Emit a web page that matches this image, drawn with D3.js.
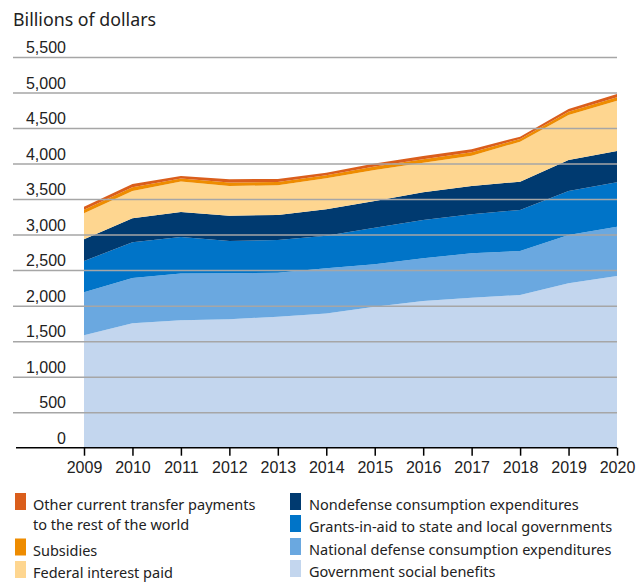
<!DOCTYPE html>
<html>
<head>
<meta charset="utf-8">
<script src="https://cdn.jsdelivr.net/npm/d3@7"></script>
<style>
  body { margin: 0; background: #fff; }
  svg { font-family: "Noto Sans", sans-serif; }
  .grid line { stroke: #a6a6a6; stroke-width: 1.5; }
  .grid .domain { display: none; }
  .y-labels .domain, .y-labels line { display: none; }
  .x-axis .domain { display: none; }
  .x-axis line { stroke: #000; stroke-width: 1.5; }
</style>
</head>
<body>
<div id="chart"></div>
<script>
let years = [2009, 2010, 2011, 2012, 2013, 2014, 2015, 2016, 2017, 2018, 2019, 2020];

let socialBenefits = [1584, 1751, 1795, 1808, 1844, 1888, 1985, 2065, 2110, 2150, 2314, 2417];
let defense = [605, 638, 657, 647, 620, 638, 597, 601, 627, 619, 681, 694];
let grants = [439, 503, 514, 455, 460, 459, 514, 540, 549, 578, 619, 625];
let nondefense = [306, 338, 352, 356, 352, 371, 377, 390, 398, 398, 436, 441];
let interest = [366, 384, 430, 418, 418, 437, 437, 416, 427, 563, 634, 708];
let subsidies = [50, 52, 42, 50, 48, 42, 48, 50, 48, 38, 44, 50];
let otherTransfers = [43, 46, 35, 45, 41, 37, 43, 45, 42, 32, 40, 45];

let yTicks = [0, 500, 1000, 1500, 2000, 2500, 3000, 3500, 4000, 4500, 5000, 5500];

let seriesKeys = ["social", "defense", "grants", "nondefense", "interest", "subsidies", "other"];
let seriesColors = {
  social: "#c3d6ee",
  defense: "#6aa8e0",
  grants: "#0074c8",
  nondefense: "#003a70",
  interest: "#fed690",
  subsidies: "#ee8c00",
  other: "#da5e1c",
};

let legendLeft = [
  { key: "other", lines: ["Other current transfer payments", "to the rest of the world"] },
  { key: "subsidies", lines: ["Subsidies"] },
  { key: "interest", lines: ["Federal interest paid"] },
];
let legendRight = [
  { key: "nondefense", lines: ["Nondefense consumption expenditures"] },
  { key: "grants", lines: ["Grants-in-aid to state and local governments"] },
  { key: "defense", lines: ["National defense consumption expenditures"] },
  { key: "social", lines: ["Government social benefits"] },
];

let data = years.map((yr, i) => ({
  year: yr,
  social: socialBenefits[i],
  defense: defense[i],
  grants: grants[i],
  nondefense: nondefense[i],
  interest: interest[i],
  subsidies: subsidies[i],
  other: otherTransfers[i],
}));

let width = 644,
  height = 582;

let plot = { left: 84, right: 617, top: 57, bottom: 447.7 };

let svg = d3
  .select("#chart")
  .append("svg")
  .attr("width", width)
  .attr("height", height);

let xScale = d3.scaleLinear().domain([2009, 2020]).range([plot.left, plot.right]);
let yScale = d3.scaleLinear().domain([0, 5500]).range([plot.bottom, plot.top]);

let stacked = d3.stack().keys(seriesKeys)(data);

let area = d3
  .area()
  .x((d) => xScale(d.data.year))
  .y0((d) => yScale(d[0]))
  .y1((d) => yScale(d[1]));

svg
  .append("g")
  .selectAll("path")
  .data(stacked)
  .join("path")
  .attr("fill", (d) => seriesColors[d.key])
  .attr("d", area);

// gridlines sit over the areas
svg
  .append("g")
  .attr("class", "grid")
  .attr("transform", "translate(" + plot.right + ",0)")
  .call(
    d3
      .axisLeft(yScale)
      .tickValues(yTicks.slice(1))
      .tickSize(plot.right - 13)
      .tickFormat("")
  );

svg
  .append("g")
  .attr("class", "y-labels")
  .attr("transform", "translate(66,0)")
  .call(d3.axisLeft(yScale).tickValues(yTicks).tickSize(0).tickPadding(0).tickFormat(d3.format(",")))
  .call((g) =>
    g
      .selectAll("text")
      .attr("dy", "-0.28em")
      .style("font-size", "16px")
      .attr("fill", "#222")
  );

// baseline
svg
  .append("line")
  .attr("x1", 16)
  .attr("x2", plot.right)
  .attr("y1", yScale(0))
  .attr("y2", yScale(0))
  .attr("stroke", "#000")
  .attr("stroke-width", 1.5);

svg
  .append("g")
  .attr("class", "x-axis")
  .attr("transform", "translate(0," + yScale(0) + ")")
  .call(d3.axisBottom(xScale).tickValues(years).tickFormat(d3.format("d")).tickSize(8).tickPadding(6))
  .call((g) => g.selectAll("text").style("font-size", "16px").attr("fill", "#222"));

svg
  .append("text")
  .attr("x", 13)
  .attr("y", 26)
  .style("font-size", "17.8px")
  .attr("fill", "#222")
  .text("Billions of dollars");

function drawLegend(items, x0, textDx, baselines) {
  let g = svg.append("g").attr("transform", "translate(" + x0 + ",0)");
  items.forEach((item, i) => {
    let y = baselines[i];
    g.append("rect")
      .attr("x", 0)
      .attr("y", y - 17)
      .attr("width", 11)
      .attr("height", 17)
      .attr("fill", seriesColors[item.key]);
    let t = g
      .append("text")
      .attr("y", y)
      .style("font-size", "14.5px")
      .attr("fill", "#222");
    item.lines.forEach((ln, j) => {
      t.append("tspan")
        .attr("x", textDx)
        .attr("dy", j === 0 ? 0 : 20)
        .text(ln);
    });
  });
}

drawLegend(legendLeft, 15, 18, [510, 555.5, 578]);
drawLegend(legendRight, 290, 19, [510, 532, 555, 577]);
</script>
</body>
</html>
